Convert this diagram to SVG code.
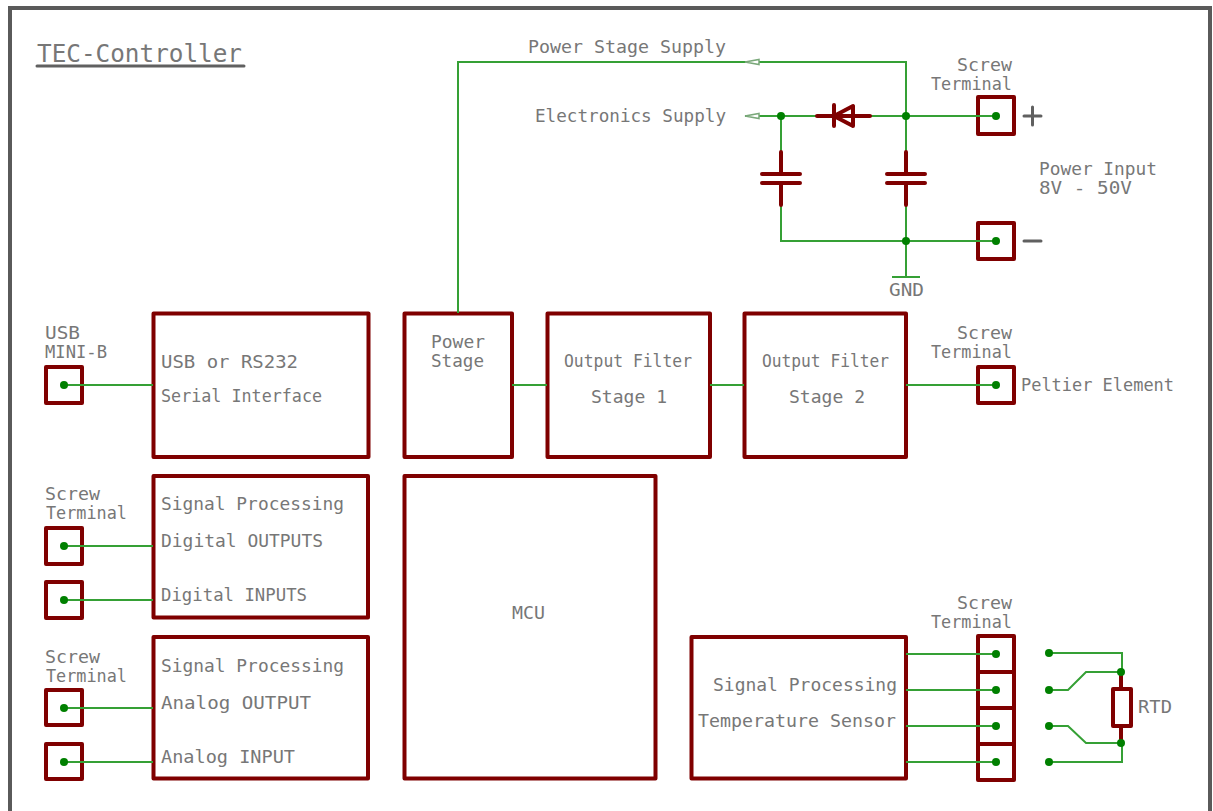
<svg xmlns="http://www.w3.org/2000/svg" width="1213" height="811" viewBox="0 0 1213 811">
<style>
.box{fill:#fff;stroke:#7f0000;stroke-width:4;stroke-linejoin:round}
.sym{fill:none;stroke:#7f0000;stroke-width:4;stroke-linecap:round;stroke-linejoin:round}
.w{fill:none;stroke:#35a035;stroke-width:2}
.d{fill:#008000}
.g{fill:none;stroke:#606060;stroke-width:3;stroke-linecap:round}
text{font-family:"DejaVu Sans Mono","Liberation Mono",monospace;font-size:18px;fill:#777}
.t{font-size:24px}
</style>
<rect x="10" y="8" width="1200" height="830" fill="#fff" stroke="#5a5a5a" stroke-width="4"/>
<g id="title"><text class="t" x="37" y="62" textLength="205" lengthAdjust="spacingAndGlyphs">TEC-Controller</text><path class="g" d="M37 66H244"/></g>

<g id="usb-connector"><rect class="box" x="46" y="367" width="36" height="36"/><text x="45" y="339" textLength="35" lengthAdjust="spacingAndGlyphs">USB</text><text x="45" y="358" textLength="62" lengthAdjust="spacingAndGlyphs">MINI-B</text></g>
<g id="serial-interface"><rect class="box" x="153.500" y="313.500" width="215" height="143.500"/><text x="161" y="368" textLength="137" lengthAdjust="spacingAndGlyphs">USB or RS232</text><text x="161" y="402" textLength="161" lengthAdjust="spacingAndGlyphs">Serial Interface</text></g>
<g id="power-stage"><rect class="box" x="404.500" y="313.500" width="107.500" height="143.500"/><text x="431" y="348" textLength="54" lengthAdjust="spacingAndGlyphs">Power</text><text x="431" y="367" textLength="53" lengthAdjust="spacingAndGlyphs">Stage</text></g>
<g id="output-filter-1"><rect class="box" x="547.500" y="313.500" width="162.500" height="143.500"/><text x="564" y="367" textLength="128" lengthAdjust="spacingAndGlyphs">Output Filter</text><text x="591" y="403" textLength="76" lengthAdjust="spacingAndGlyphs">Stage 1</text></g>
<g id="output-filter-2"><rect class="box" x="744.500" y="313.500" width="161.500" height="143.500"/><text x="762" y="367" textLength="127" lengthAdjust="spacingAndGlyphs">Output Filter</text><text x="789" y="403" textLength="76" lengthAdjust="spacingAndGlyphs">Stage 2</text></g>
<g id="peltier-terminal"><rect class="box" x="978" y="367" width="36" height="36"/><text x="957" y="339" textLength="55" lengthAdjust="spacingAndGlyphs">Screw</text><text x="931" y="358" textLength="81" lengthAdjust="spacingAndGlyphs">Terminal</text><text x="1021" y="391" textLength="153" lengthAdjust="spacingAndGlyphs">Peltier Element</text></g>

<g id="digital-terminals"><rect class="box" x="46" y="528" width="36" height="36"/><rect class="box" x="46" y="582" width="36" height="36"/><text x="45" y="500" textLength="55" lengthAdjust="spacingAndGlyphs">Screw</text><text x="46" y="519" textLength="81" lengthAdjust="spacingAndGlyphs">Terminal</text></g>
<g id="digital-processing"><rect class="box" x="153.500" y="476" width="214.500" height="141.500"/><text x="161" y="510" textLength="183" lengthAdjust="spacingAndGlyphs">Signal Processing</text><text x="161" y="547" textLength="162" lengthAdjust="spacingAndGlyphs">Digital OUTPUTS</text><text x="161" y="601" textLength="146" lengthAdjust="spacingAndGlyphs">Digital INPUTS</text></g>
<g id="analog-terminals"><rect class="box" x="46" y="690" width="36" height="35"/><rect class="box" x="46" y="744" width="36" height="35"/><text x="45" y="663" textLength="55" lengthAdjust="spacingAndGlyphs">Screw</text><text x="46" y="682" textLength="81" lengthAdjust="spacingAndGlyphs">Terminal</text></g>
<g id="analog-processing"><rect class="box" x="153.500" y="637" width="214.500" height="141.500"/><text x="161" y="672" textLength="183" lengthAdjust="spacingAndGlyphs">Signal Processing</text><text x="161" y="709" textLength="150" lengthAdjust="spacingAndGlyphs">Analog OUTPUT</text><text x="161" y="763" textLength="134" lengthAdjust="spacingAndGlyphs">Analog INPUT</text></g>
<g id="mcu"><rect class="box" x="404.500" y="476" width="251" height="302.500"/><text x="512" y="619" textLength="33" lengthAdjust="spacingAndGlyphs">MCU</text></g>
<g id="temperature-processing"><rect class="box" x="691.500" y="637" width="214.500" height="141.500"/><text x="713" y="691" textLength="184" lengthAdjust="spacingAndGlyphs">Signal Processing</text><text x="698" y="727" textLength="198" lengthAdjust="spacingAndGlyphs">Temperature Sensor</text></g>
<g id="rtd-terminal"><rect class="box" x="978" y="636" width="36" height="36"/><rect class="box" x="978" y="672" width="36" height="36"/><rect class="box" x="978" y="708" width="36" height="36"/><rect class="box" x="978" y="744" width="36" height="36"/><text x="957" y="609" textLength="55" lengthAdjust="spacingAndGlyphs">Screw</text><text x="931" y="628" textLength="81" lengthAdjust="spacingAndGlyphs">Terminal</text></g>
<g id="power-plus-terminal"><rect class="box" x="978" y="97" width="36" height="37"/><text x="957" y="71" textLength="55" lengthAdjust="spacingAndGlyphs">Screw</text><text x="931" y="90" textLength="81" lengthAdjust="spacingAndGlyphs">Terminal</text><path class="g" d="M1024 116H1041M1032.500 107V125"/></g>
<g id="power-minus-terminal"><rect class="box" x="978" y="223" width="36" height="36"/><path class="g" d="M1024 241H1041"/></g>
<g id="power-input"><text x="1039" y="175" textLength="118" lengthAdjust="spacingAndGlyphs">Power Input</text><text x="1039" y="194" textLength="93" lengthAdjust="spacingAndGlyphs">8V - 50V</text></g>
<g id="power-stage-supply"><text x="528" y="53" textLength="198" lengthAdjust="spacingAndGlyphs">Power Stage Supply</text></g>
<g id="electronics-supply"><text x="535" y="122" textLength="191" lengthAdjust="spacingAndGlyphs">Electronics Supply</text></g>

<g id="connectors">
<path class="w" d="M64 385H153M64 546H153M64 600H153M64 708H153M64 762H153M512 385H547M710 385H744M906 385H996M906 654H996M906 690H996M906 726H996M906 762H996"/>
<path class="w" d="M458 313V62H906V151M745 116H996M781 116V151M781 206V241H996M906 206V277M892 277H920"/>
<path class="w" d="M1049 653H1122V672M1049 690H1068L1086 672H1122M1049 726H1068L1086 743H1122M1049 762H1122V743"/>
<path d="M745 62L759 59.500V64.500ZM745 116L759 113.500V118.500Z" fill="#fff" stroke="#7aa87a" stroke-width="1.500"/>
<g class="d"><circle cx="64" cy="385" r="4"/><circle cx="64" cy="546" r="4"/><circle cx="64" cy="600" r="4"/><circle cx="64" cy="708" r="4"/><circle cx="64" cy="762" r="4"/><circle cx="996" cy="385" r="4"/><circle cx="996" cy="654" r="4"/><circle cx="996" cy="690" r="4"/><circle cx="996" cy="726" r="4"/><circle cx="996" cy="762" r="4"/><circle cx="1049" cy="653" r="4"/><circle cx="1049" cy="690" r="4"/><circle cx="1049" cy="726" r="4"/><circle cx="1049" cy="762" r="4"/><circle cx="781" cy="116" r="4"/><circle cx="906" cy="116" r="4"/><circle cx="996" cy="116" r="4"/><circle cx="906" cy="241" r="4"/><circle cx="996" cy="241" r="4"/></g>
</g>

<g id="diode"><path class="sym" d="M817 116H870M834 105V126M834 116L853 106V126Z"/></g>
<g id="capacitor-left"><path class="sym" d="M781 152V174M762 174H800M762 183H800M781 183V205"/></g>
<g id="capacitor-right"><path class="sym" d="M906 152V174M887 174H925M887 183H925M906 183V205"/></g>
<g id="gnd"><text x="889" y="296" textLength="35" lengthAdjust="spacingAndGlyphs">GND</text></g>
<g id="rtd"><path class="sym" d="M1121 672V689M1121 726V743"/><rect class="box" x="1113" y="689" width="18" height="37"/><circle class="d" cx="1121" cy="672" r="4"/><circle class="d" cx="1121" cy="743" r="4"/><text x="1138" y="713" textLength="34" lengthAdjust="spacingAndGlyphs">RTD</text></g>
</svg>
